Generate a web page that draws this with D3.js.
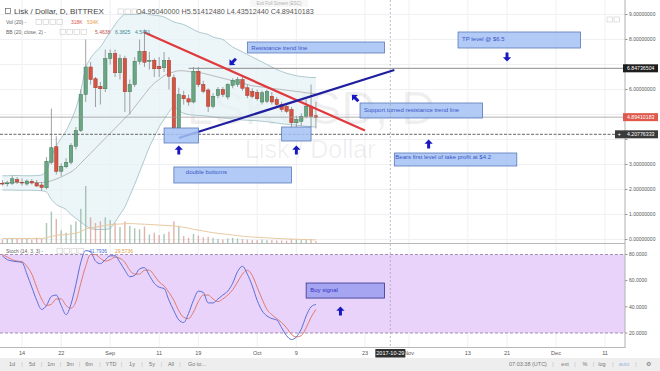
<!DOCTYPE html>
<html><head><meta charset="utf-8">
<script src="https://cdn.jsdelivr.net/npm/d3@7"></script>
<style>body{margin:0;background:#fff}svg{display:block;font-family:"Liberation Sans",Arial,sans-serif}</style>
</head><body><svg id="c" width="660" height="371"></svg>
<script>
// ---------------- DATA ----------------
const startDay = "2017-08-10";
const open  = [2.25,2.24,2.25,2.40,2.29,2.22,2.33,2.26,2.18,2.07,3.09,3.71,2.73,2.91,3.09,3.73,4.36,5.80,6.90,6.43,6.13,6.03,
  7.24,7.44,6.67,7.24,5.91,6.20,7.13,7.53,7.13,7.17,6.93,6.87,7.17,6.47,4.47,5.76,5.63,5.50,6.73,6.20,5.98,5.33,5.76,6.00,5.70,6.16,6.20,6.40,6.07,5.93,
  5.89,5.50,5.53,5.73,5.60,5.40,5.33,5.20,4.67,4.73,4.93,5.33,4.95];
const high  = [2.38,2.35,2.55,2.50,2.45,2.40,2.42,2.38,2.30,3.30,5.24,4.13,3.05,3.25,3.85,4.50,6.00,8.00,7.10,6.50,6.30,7.60,
  7.60,7.60,7.40,7.35,6.40,7.30,8.00,8.40,7.50,7.25,7.30,7.50,7.30,6.60,6.07,5.95,5.80,6.90,6.90,6.35,6.05,5.85,6.10,6.10,6.25,6.45,6.50,6.50,6.20,6.05,
  6.00,5.95,6.00,5.90,5.70,5.50,5.45,5.30,4.95,5.05,5.60,6.20,5.51];
const low   = [2.15,2.12,2.18,2.22,2.15,2.15,2.20,2.10,1.95,2.00,3.00,2.60,2.53,2.85,3.00,3.60,4.30,5.50,6.20,5.30,5.40,5.90,
  7.00,6.50,6.40,5.10,5.00,6.10,7.00,6.90,6.80,6.50,6.50,6.70,6.00,4.40,4.40,5.40,5.35,5.45,6.10,5.85,5.10,5.25,5.65,5.70,5.60,6.05,6.10,5.95,5.65,5.65,
  5.55,5.40,5.45,5.40,5.30,5.10,5.05,4.50,4.47,4.55,4.85,4.50,4.44];
const close = [2.24,2.26,2.43,2.30,2.27,2.34,2.26,2.14,2.08,3.13,3.67,2.73,2.93,3.09,3.76,4.36,5.80,6.90,6.40,6.07,6.03,7.24,
  7.44,6.67,7.24,5.91,6.20,7.13,7.53,7.09,7.17,6.83,6.83,7.17,6.53,4.47,5.80,5.63,5.50,6.73,6.20,5.93,5.33,5.73,6.00,5.80,6.20,6.37,6.40,6.05,5.76,5.73,
  5.63,5.87,5.93,5.50,5.40,5.20,5.13,4.67,4.80,4.93,5.33,4.93,4.89];
const volume = [600,700,900,700,800,700,600,900,800,3500,5500,4200,2200,1800,3200,3800,6000,10000,4500,3500,3800,4500,
  4000,3500,2800,3800,3000,2600,2400,2900,1500,1800,1400,1600,2000,3800,3000,1200,900,1600,1300,1000,1100,900,700,600,800,900,800,700,600,500,
  500,600,500,500,450,450,400,700,600,500,600,700,318];
const volumeMA = [800,800,800,800,800,800,800,800,800,920,1150,1340,1420,1480,1600,1740,2000,2460,2640,2780,2920,3100,
  3220,3300,3330,3380,3400,3380,3330,3300,3250,3200,3150,3100,3050,3000,2900,2750,2600,2400,2250,2100,1950,1800,1700,1600,1500,1400,1300,1200,1100,1050,
  1000,950,900,850,800,760,720,690,660,630,600,570,534];
const bbUpper = [2.55,2.55,2.56,2.56,2.55,2.55,2.55,2.56,2.58,2.75,3.3,3.75,4.05,4.35,4.75,5.25,5.95,6.85,7.25,7.5,7.7,8.0,
  8.3,8.6,8.85,9.0,9.0,9.0,9.02,9.05,9.0,8.97,8.95,8.9,8.8,8.7,8.65,8.6,8.5,8.4,8.3,8.25,8.2,8.1,8.05,8.0,7.85,7.7,7.6,7.5,7.4,7.3,
  7.2,7.1,7.0,6.9,6.8,6.72,6.65,6.6,6.55,6.52,6.5,6.48,6.48];
const bbBasis = [2.28,2.28,2.28,2.28,2.28,2.28,2.28,2.28,2.28,2.3,2.35,2.42,2.5,2.6,2.7,2.85,3.05,3.25,3.45,3.65,3.85,4.05,
  4.25,4.45,4.65,4.85,5.05,5.3,5.55,5.8,6.05,6.25,6.4,6.55,6.65,6.7,6.75,6.75,6.72,6.7,6.68,6.65,6.6,6.55,6.5,6.45,6.4,6.35,6.3,6.25,6.2,6.15,
  6.12,6.1,6.07,6.05,6.02,6.0,5.97,5.95,5.92,5.9,5.87,5.85,5.82];
const bbLower = [1.98,1.98,1.98,1.97,1.97,1.97,1.97,1.96,1.95,1.9,1.6,1.4,1.3,1.2,1.0,0.85,0.7,0.55,0.45,0.4,0.4,0.4,
  0.45,0.7,1.0,1.3,1.75,2.2,2.7,3.2,3.7,4.1,4.5,4.8,5.1,5.3,5.15,5.05,5.0,4.98,4.96,4.95,4.93,4.9,4.88,4.86,4.84,4.82,4.8,4.78,4.77,4.76,
  4.75,4.73,4.71,4.69,4.66,4.63,4.61,4.59,4.57,4.55,4.53,4.51,4.5];
const stochK = [79,76,75,74.5,74,65,55,45,38,41,48,49,41,34,42,57,74,83,82,75,73,76,
  79,79,74,68,63,64,69,70,64,58,55,54,45,37,30,28,35,45,52,51,43,43,46,49,52,58,67,71,65,56,
  45,37,33,31,30,24,18,15,17,23,33,40,41.8];
const stochD = [80,78,76,75,74.5,71,65,55,46,41,42,46,46,41,39,44,58,71,80,80,77,75,
  76,78,77,74,68,65,65,68,68,64,59,56,51,45,37,32,31,36,44,49,49,46,44,46,49,53,59,65,68,64,
  55,46,38,34,31,28,24,19,17,18,24,32,38];
const priceTicks = [0,1,2,3,4,5,6,7,8,9];
const priceTickLabels = [0,1,2,3,6,8,9];   // 4, 5 and 7 sit under the price flags
const stochTicks = [20,40,60,80];
const timeTicks = [["2017-08-14","14"],["2017-08-22","22"],["2017-09-01","Sep"],["2017-09-11","11"],["2017-09-19","19"],
  ["2017-10-01","Oct"],["2017-10-09","9"],["2017-10-23","23"],["2017-11-01","Nov"],["2017-11-13","13"],["2017-11-21","21"],
  ["2017-12-01","Dec"],["2017-12-11","11"]];
const hLevels = [6.84736504, 4.89410183, 4.20776333];
const resistanceLine = [["2017-09-08",8.28],["2017-10-23",4.36]];
const supportLine    = [["2017-09-15",4.06],["2017-10-29",6.78]];
const notes = [
  ["Resistance trend line","2017-09-29","2017-10-27",7.90,7.46],
  ["TP level @ $6.5","2017-11-11","2017-12-06",8.30,7.66],
  ["Support turned resistance trend line","2017-10-22","2017-11-16",5.46,4.86],
  ["Bears first level of take profit at $4.2","2017-10-29","2017-11-23",3.46,2.94],
  ["double bottoms","2017-09-14","2017-10-08",2.90,2.26],
  ["","2017-09-12","2017-09-19",4.46,3.86],
  ["","2017-10-06","2017-10-12",4.50,3.94]
];
const arrows = [["2017-09-26",7.10,-135],["2017-11-21",7.30,180],["2017-10-21",5.66,-45],
  ["2017-11-05",3.82,0],["2017-09-15",3.58,0],["2017-10-09",3.58,0]];
const buySignal = ["Buy signal","2017-10-11","2017-10-27",58.2,46.7];
const stochArrow = ["2017-10-18",36.8,0];

// ---------------- SETUP ----------------
const svg = d3.select("#c");
const W = 660, axisX = 625;
const parse = d3.utcParse("%Y-%m-%d");
const dates = open.map((_, i) => d3.utcDay.offset(parse(startDay), i));
const x = d3.scaleUtc().domain([parse("2017-08-14"), parse("2017-12-11")]).range([22, 605]);
const y = d3.scaleLinear().domain([0, 9]).range([239.5, 14.5]);
const yVol = d3.scaleLinear().domain([0, 10000]).range([243, 186]);
const yS = d3.scaleLinear().domain([20, 80]).range([333, 254.5]);
const bodyW = 3.4;
const green = "#6ba583", red = "#d75442";

const defs = svg.append("defs");
defs.append("clipPath").attr("id","mainClip").append("rect").attr("x",0).attr("y",0).attr("width",axisX).attr("height",243.5);
defs.append("clipPath").attr("id","stClip").append("rect").attr("x",0).attr("y",244).attr("width",axisX).attr("height",103);

svg.append("rect").attr("width",W).attr("height",371).attr("fill","#fff");

// grid
const grid = svg.append("g");
grid.selectAll(".vg").data(timeTicks).join("line")
  .attr("x1", d => x(parse(d[0]))).attr("x2", d => x(parse(d[0])))
  .attr("y1", 0).attr("y2", 347).attr("stroke", "#eef0f3").attr("stroke-width", 1);
grid.selectAll(".hg").data(priceTicks).join("line")
  .attr("x1", 0).attr("x2", axisX).attr("y1", d => y(d)).attr("y2", d => y(d))
  .attr("stroke", "#eef0f3");

// watermark
const wm = svg.append("g").attr("fill", "#000").attr("fill-opacity", 0.065);
wm.append("text").attr("x", 187).attr("y", 124).attr("font-size", 47).text("LSKUSD, D");
wm.append("text").attr("x", 245).attr("y", 158).attr("font-size", 25).text("Lisk / Dollar");

// main pane
const main = svg.append("g").attr("clip-path","url(#mainClip)");
const idx = d3.range(dates.length);
main.append("path").datum(idx)
  .attr("d", d3.area().x(i => x(dates[i])).y0(i => y(bbLower[i])).y1(i => y(bbUpper[i])).curve(d3.curveMonotoneX))
  .attr("fill", "#e6f2f6").attr("fill-opacity", 0.75);
[[bbUpper,"#9cbcc3"],[bbLower,"#9cbcc3"],[bbBasis,"#ababab"]].forEach(([arr,c]) => {
  main.append("path").datum(idx)
    .attr("d", d3.line().x(i => x(dates[i])).y(i => y(arr[i])).curve(d3.curveMonotoneX))
    .attr("fill","none").attr("stroke", c).attr("stroke-width", 0.8);
});

// volume
main.selectAll(".vol").data(idx).join("rect")
  .attr("x", i => x(dates[i]) - 0.7).attr("width", 1.4)
  .attr("y", i => yVol(volume[i])).attr("height", i => yVol(0) - yVol(volume[i]))
  .attr("fill", i => close[i] >= open[i] ? "#8fb39f" : "#d69a92").attr("fill-opacity", 0.75);
main.append("path").datum(idx)
  .attr("d", d3.line().x(i => x(dates[i])).y(i => yVol(volumeMA[i])).curve(d3.curveMonotoneX))
  .attr("fill","none").attr("stroke","#e8c9a0").attr("stroke-width",1);

// candles
const cg = main.append("g");
cg.selectAll(".wick").data(idx).join("line")
  .attr("x1", i => x(dates[i])).attr("x2", i => x(dates[i]))
  .attr("y1", i => y(high[i])).attr("y2", i => y(low[i]))
  .attr("stroke", "#8a8a8c").attr("stroke-width", 0.8);
cg.selectAll(".body").data(idx).join("rect")
  .attr("x", i => x(dates[i]) - bodyW/2).attr("width", bodyW)
  .attr("y", i => y(Math.max(open[i], close[i])))
  .attr("height", i => Math.max(0.8, Math.abs(y(open[i]) - y(close[i]))))
  .attr("fill", i => close[i] >= open[i] ? green : red)
  .attr("stroke", i => close[i] >= open[i] ? "#3f7a59" : "#9b3a2e").attr("stroke-width", 0.5);

// horizontal levels
main.append("line").attr("x1", x(parse("2017-09-17"))).attr("x2", axisX)
  .attr("y1", y(hLevels[0])).attr("y2", y(hLevels[0])).attr("stroke","#8c8c8c").attr("stroke-width",1);
main.append("line").attr("x1", 0).attr("x2", axisX)
  .attr("y1", y(hLevels[1])).attr("y2", y(hLevels[1])).attr("stroke","#9a9a9a").attr("stroke-width",0.8);
main.append("line").attr("x1", 0).attr("x2", axisX)
  .attr("y1", y(hLevels[2])).attr("y2", y(hLevels[2])).attr("stroke","#666").attr("stroke-width",1)
  .attr("stroke-dasharray","3,1.5");

// trend lines
main.append("line")
  .attr("x1", x(parse(resistanceLine[0][0]))).attr("y1", y(resistanceLine[0][1]))
  .attr("x2", x(parse(resistanceLine[1][0]))).attr("y2", y(resistanceLine[1][1]))
  .attr("stroke","#e03a3e").attr("stroke-width",2.2);
main.append("line")
  .attr("x1", x(parse(supportLine[0][0]))).attr("y1", y(supportLine[0][1]))
  .attr("x2", x(parse(supportLine[1][0]))).attr("y2", y(supportLine[1][1]))
  .attr("stroke","#1f1fa0").attr("stroke-width",2.2);

// annotation boxes
function box(g, t, d0, d1, top, bot, ys, fill, stroke, tcol) {
  const x0 = x(parse(d0)), x1 = x(parse(d1)), y0 = ys(top), y1 = ys(bot);
  g.append("rect").attr("x", x0).attr("y", y0).attr("width", x1 - x0).attr("height", y1 - y0)
    .attr("fill", fill).attr("fill-opacity", 0.85).attr("stroke", stroke).attr("stroke-width", 0.8);
  if (t) g.append("text").attr("x", x0 + 4).attr("y", y0 + Math.min(9, (y1 - y0) / 2 + 2.5))
    .attr("font-size", 6).attr("fill", tcol).text(t);
}
const ann = svg.append("g");
notes.forEach(n => box(ann, n[0], n[1], n[2], n[3], n[4], y, "#a4c2f4", "#5a78b8", "#3a55c8"));
ann.selectAll("text").filter(function(){return this.textContent==="double bottoms";}).attr("x", function(){return +this.getAttribute("x")+8;}).attr("y", function(){return +this.getAttribute("y")-2;});
ann.selectAll("text").filter(function(){return this.textContent.startsWith("Bears");}).attr("y", function(){return +this.getAttribute("y")-3;}).attr("x", function(){return +this.getAttribute("x")-3;});

function arrow(g, cx, cy, ang) {
  const s = 4.6;
  const pts = [[0,-s],[s*0.9,-s*0.05],[s*0.32,-s*0.05],[s*0.32,s],[-s*0.32,s],[-s*0.32,-s*0.05],[-s*0.9,-s*0.05]];
  g.append("polygon").attr("points", pts.map(p => p.join(",")).join(" "))
    .attr("transform", `translate(${cx},${cy}) rotate(${ang})`).attr("fill", "#1818c0");
}
arrows.forEach(a => arrow(ann, x(parse(a[0])), y(a[1]), a[2]));

// stoch pane
const st = svg.append("g").attr("clip-path","url(#stClip)");
st.append("rect").attr("x",0).attr("width",axisX).attr("y",yS(80)).attr("height",yS(20)-yS(80)).attr("fill","#e9d3fb");
[80,20].forEach(v => st.append("line").attr("x1",0).attr("x2",axisX).attr("y1",yS(v)).attr("y2",yS(v))
  .attr("stroke","#8d7a9a").attr("stroke-dasharray","3,2").attr("stroke-width",0.8));
st.append("path").datum(idx).attr("d", d3.line().x(i => x(dates[i])).y(i => yS(stochD[i])).curve(d3.curveMonotoneX))
  .attr("fill","none").attr("stroke","#e07a6e").attr("stroke-width",1);
st.append("path").datum(idx).attr("d", d3.line().x(i => x(dates[i])).y(i => yS(stochK[i])).curve(d3.curveMonotoneX))
  .attr("fill","none").attr("stroke","#5b6fd6").attr("stroke-width",1);
box(st, buySignal[0], buySignal[1], buySignal[2], buySignal[3], buySignal[4], yS, "#9a9cf0", "#333388", "#3535c8");
arrow(st, x(parse(stochArrow[0])), yS(stochArrow[1]), stochArrow[2]);

// crosshair vertical
svg.append("line").attr("x1", x(parse("2017-10-29"))-4).attr("x2", x(parse("2017-10-29"))-4).attr("y1",0).attr("y2",347)
  .attr("stroke","#9aa0a8").attr("stroke-dasharray","2,2").attr("stroke-width",0.7);

// separators / axes
svg.append("line").attr("x1",0).attr("x2",axisX).attr("y1",243.5).attr("y2",243.5).attr("stroke","#b8b8b8");
svg.append("line").attr("x1",0).attr("x2",axisX).attr("y1",347.5).attr("y2",347.5).attr("stroke","#b8b8b8");
svg.append("line").attr("x1",axisX).attr("x2",axisX).attr("y1",0).attr("y2",348).attr("stroke","#b0b0b0");

const ax = svg.append("g").attr("font-size",5).attr("fill","#555");
ax.selectAll(".pt").data(priceTickLabels).join("text").attr("x", axisX + 4).attr("y", d => y(d) + 1.8)
  .text(d => d3.format(".8f")(d));
ax.selectAll(".ptk").data(priceTicks).join("line").attr("x1",axisX).attr("x2",axisX+2.5)
  .attr("y1", d => y(d)).attr("y2", d => y(d)).attr("stroke","#999");
ax.selectAll(".st").data(stochTicks).join("text").attr("x", axisX + 4).attr("y", d => yS(d) + 1.8)
  .text(d => d3.format(".4f")(d));
ax.selectAll(".stk").data(stochTicks).join("line").attr("x1",axisX).attr("x2",axisX+2.5)
  .attr("y1", d => yS(d)).attr("y2", d => yS(d)).attr("stroke","#999");

// price labels
function priceLabel(v, fill, plus) {
  const yy = y(v);
  const x0 = plus ? axisX - 10 : axisX - 2;
  svg.append("rect").attr("x", x0).attr("y", yy - 4).attr("width", W - x0 - 2).attr("height", 8).attr("fill", fill);
  if (plus) svg.append("text").attr("x", x0 + 2.5).attr("y", yy + 2).attr("font-size", 6).attr("fill","#fff").text("+");
  svg.append("text").attr("x", axisX + 2).attr("y", yy + 1.9).attr("font-size", 5.2).attr("fill","#fff").text(d3.format(".8f")(v));
}
priceLabel(hLevels[0], "#1e1e1e", false);
priceLabel(hLevels[1], "#e0584c", false);
priceLabel(hLevels[2], "#3a3a3a", true);

// time axis
const tx = svg.append("g").attr("font-size",5.5).attr("fill","#555").attr("text-anchor","middle");
tx.selectAll("text").data(timeTicks).join("text").attr("x", d => x(parse(d[0]))).attr("y", 355).text(d => d[1]);
const chx = x(parse("2017-10-29"))-4;
svg.append("rect").attr("x", chx - 15).attr("y", 349).attr("width", 30).attr("height", 8.5).attr("fill","#2f2f2f");
svg.append("text").attr("x", chx).attr("y", 355.3).attr("font-size",5.5).attr("fill","#fff").attr("text-anchor","middle").text("2017-10-29");

// bottom toolbar
svg.append("rect").attr("x",0).attr("y",358).attr("width",W).attr("height",13).attr("fill","#eeeeee");
const tb = svg.append("g").attr("font-size",5.5).attr("fill","#777");
const leftItems = [["1d",12],["5d",32],["1m",51],["3m",70],["6m",89],["YTD",111],["1y",132],["5y",152],["All",171],["Go to...",197]];
tb.selectAll(".li").data(leftItems).join("text").attr("x", d => d[1]).attr("y", 365.5).attr("text-anchor","middle").text(d => d[0]);
tb.selectAll(".ls").data(leftItems.slice(0,-1)).join("text").attr("x", (d,i) => (d[1] + leftItems[i+1][1]) / 2 + (i===leftItems.length-2?-4:0)).attr("y", 365.5).attr("fill","#bbb").attr("text-anchor","middle").text("|");
const rightItems = [["07:03:38 (UTC)",528],["ext",565],["%",585],["log",602],["auto",624],["⚙",648]];
tb.selectAll(".ri").data(rightItems).join("text").attr("x", d => d[1]).attr("y", 365.5).attr("text-anchor","middle")
  .attr("fill", d => d[0]==="auto" ? "#9bb7e0" : "#777").text(d => d[0]);
tb.selectAll(".rs").data(rightItems.slice(0,-1)).join("text").attr("x", (d,i) => d[0].length>5 ? 553 : (d[1] + rightItems[i+1][1]) / 2).attr("y", 365.5).attr("fill","#bbb").attr("text-anchor","middle").text("|");

// header
const hd = svg.append("g");
hd.append("rect").attr("x",5.5).attr("y",8.5).attr("width",5).attr("height",5).attr("fill","none").attr("stroke","#666").attr("stroke-width",0.7);
hd.append("text").attr("x",14).attr("y",14).attr("font-size",8).attr("fill","#444").text("Lisk / Dollar, D, BITTREX");
hd.append("text").attr("x",109).attr("y",14).attr("font-size",6).attr("fill","#999").text("·");
hd.append("text").attr("x",136).attr("y",14).attr("font-size",7.2).attr("fill","#555")
  .text("O4.95040000  H5.51412480  L4.43512440  C4.89410183");
function icons(g, x0, yy, n) { for (let k = 0; k < n; k++) g.append("rect").attr("x", x0 + k*7).attr("y", yy).attr("width",5.5).attr("height",5).attr("fill","none").attr("stroke","#ccc").attr("stroke-width",0.6); }
icons(hd, 118, 9, 3);
hd.append("text").attr("x",6).attr("y",24).attr("font-size",5).attr("fill","#666").text("Vol (20)  -");
icons(hd, 36, 19.5, 4);
hd.append("text").attr("x",71).attr("y",24).attr("font-size",5).attr("fill","#d9544a").text("318K");
hd.append("text").attr("x",87).attr("y",24).attr("font-size",5).attr("fill","#e89b4a").text("534K");
hd.append("text").attr("x",6).attr("y",34).attr("font-size",5).attr("fill","#666").text("BB (20, close, 2)  -");
icons(hd, 60, 29.5, 4);
hd.append("text").attr("x",95).attr("y",34).attr("font-size",5).attr("fill","#c0504a").text("5.4638");
hd.append("text").attr("x",115).attr("y",34).attr("font-size",5).attr("fill","#3a8a9a").text("6.3825");
hd.append("text").attr("x",135).attr("y",34).attr("font-size",5).attr("fill","#3a8a9a").text("4.5451");
hd.append("text").attr("x",6).attr("y",253).attr("font-size",5).attr("fill","#666").text("Stoch (14, 3, 3)  -");
icons(hd, 57, 248.5, 4);
hd.append("text").attr("x",89).attr("y",253).attr("font-size",5).attr("fill","#3d6fd0").text("41.7936");
hd.append("text").attr("x",115).attr("y",253).attr("font-size",5).attr("fill","#e0a040").text("29.5736");
icons(hd, 607, 17, 2);
svg.append("rect").attr("x",250).attr("y",0).attr("width",58).attr("height",7).attr("fill","#f7f7f7");
svg.append("text").attr("x",279).attr("y",5).attr("font-size",4.5).attr("fill","#b0b0b0").attr("text-anchor","middle").text("Exit Full Screen (ESC)");
</script></body></html>
